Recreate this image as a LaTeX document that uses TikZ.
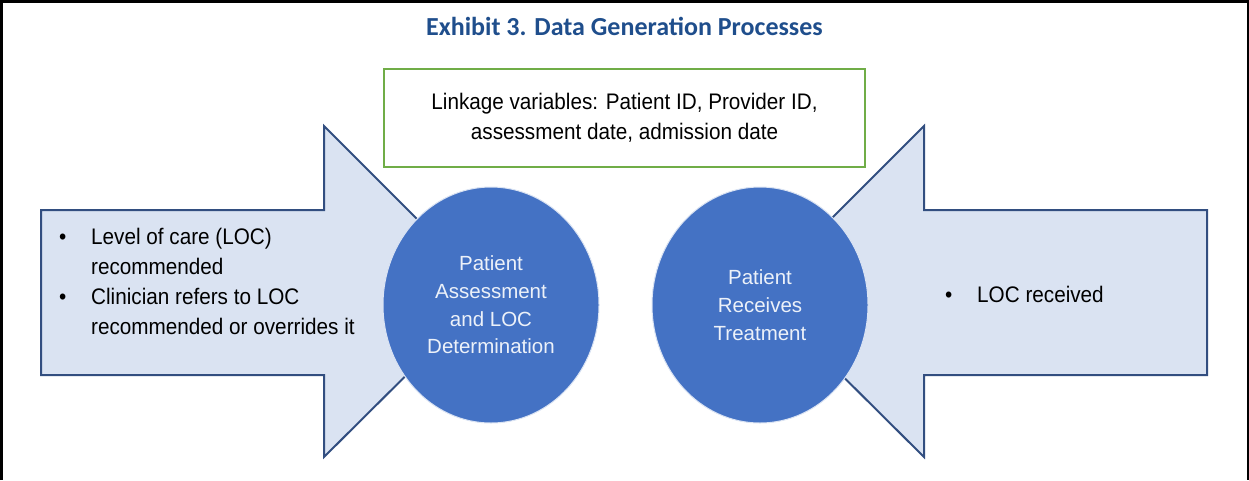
\documentclass[tikz,border=0pt]{standalone}
\usepackage{fontspec}
\setmainfont{Liberation Sans}
\newfontfamily\listfont{Liberation Sans}[FakeStretch=0.92]
\newfontfamily\titlefont{Carlito}
\usetikzlibrary{shapes}

\definecolor{titleblue}{RGB}{31,78,140}
\definecolor{circleblue}{RGB}{68,114,196}
\definecolor{circletext}{RGB}{236,241,249}
\definecolor{arrowfill}{RGB}{218,227,242}
\definecolor{arrowline}{RGB}{50,78,128}
\definecolor{boxgreen}{RGB}{112,173,71}

\begin{document}
\begin{tikzpicture}[x=1pt,y=-1pt,
  stage/.style={shape=ellipse,fill=circleblue,draw=white!80!circleblue,line width=1pt,minimum width=216pt,minimum height=236pt,inner sep=0pt,align=center,text=circletext,font=\fontsize{20.5}{27.7}\selectfont},
  flow/.style={fill=arrowfill,draw=arrowline,line width=2pt,line join=miter},
  bullets/.style={inner sep=0pt,anchor=base west,font=\listfont\fontsize{22.5}{30}\selectfont}]
\useasboundingbox (0,0) rectangle (1249,480);
\draw[line width=2.5pt] (1.25,480) -- (1.25,1.5) -- (1247.75,1.5) -- (1247.75,480);

\node[anchor=base,text=titleblue,font=\titlefont\bfseries\fontsize{26}{30}\selectfont] (0) at (624.5,35) {Exhibit 3. Data Generation Processes};
\node[draw=boxgreen,line width=2pt,minimum width=481pt,minimum height=98pt,align=center,font=\listfont\fontsize{22.5}{30}\selectfont] (1) at (624.5,118) {Linkage variables: Patient ID, Provider ID,\\assessment date, admission date};

\filldraw[flow] (41,210) -- (324,210) -- (324,126) -- (490,292) -- (324,457) -- (324,375) -- (41,375) -- cycle;
\filldraw[flow] (1207,210) -- (924,210) -- (924,126) -- (758,292) -- (924,457) -- (924,375) -- (1207,375) -- cycle;

\node[stage] (2) at (491,305) {Patient\\Assessment\\and LOC\\Determination};
\node[stage] (3) at (760,305) {Patient\\Receives\\Treatment};

\node[bullets] (4) at (59,244) {\begin{tabular}[t]{@{}p{32pt}@{}l@{}}\textbullet & Level of care (LOC)\\ & recommended\\ \textbullet & Clinician refers to LOC\\ & recommended or overrides it\end{tabular}};
\node[bullets] (5) at (945,302) {\begin{tabular}[t]{@{}p{32pt}@{}l@{}}\textbullet & LOC received\end{tabular}};
\end{tikzpicture}
\end{document}
